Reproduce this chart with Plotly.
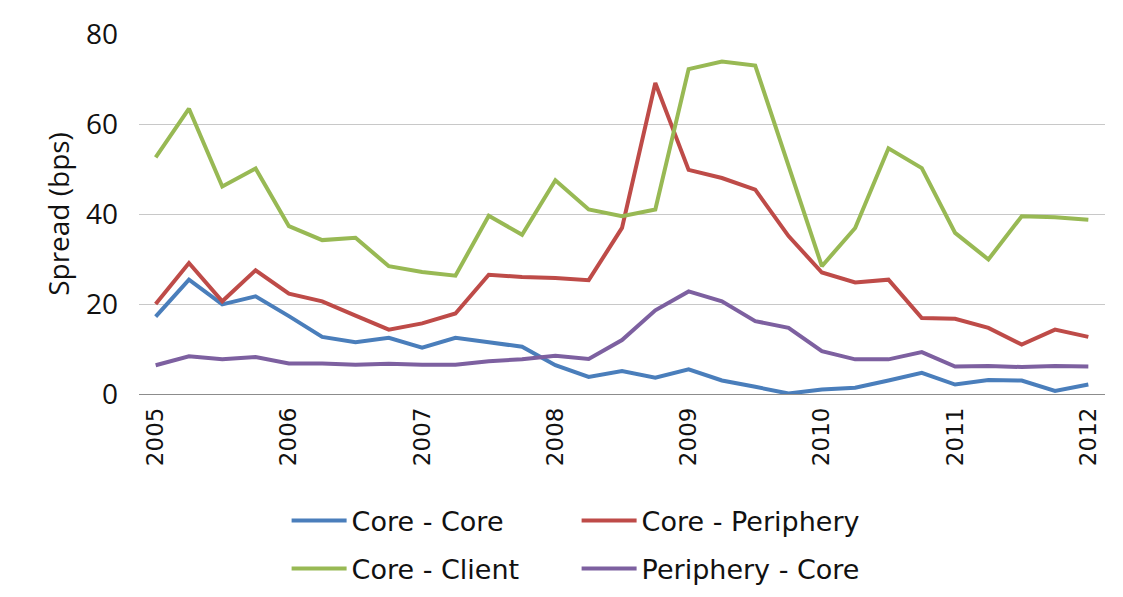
import plotly.graph_objects as go

quarters = list(range(29))
tick_vals = [0, 4, 8, 12, 16, 20, 24, 28]
tick_text = ["2005", "2006", "2007", "2008", "2009", "2010", "2011", "2012"]

core_core = [17.2, 25.4, 19.9, 21.7, 17.3, 12.7, 11.5, 12.5, 10.3, 12.5, 11.5, 10.5,
             6.4, 3.8, 5.1, 3.6, 5.5, 3.0, 1.6, 0.1, 1.0, 1.4, 3.0, 4.7, 2.1, 3.1, 3.0, 0.7, 2.1]
core_periphery = [20.0, 29.1, 20.6, 27.5, 22.3, 20.6, 17.4, 14.3, 15.7, 17.9, 26.5, 26.0,
                  25.8, 25.3, 36.9, 69.1, 49.8, 48.0, 45.4, 35.1, 27.0, 24.8, 25.4, 16.9,
                  16.7, 14.7, 11.0, 14.3, 12.7]
core_client = [52.6, 63.4, 46.1, 50.1, 37.3, 34.2, 34.7, 28.4, 27.1, 26.3, 39.6, 35.4,
               47.5, 41.0, 39.5, 41.0, 72.2, 73.9, 73.0, 51.0, 28.4, 36.9, 54.6, 50.2,
               35.8, 29.9, 39.5, 39.3, 38.7]
periphery_core = [6.4, 8.4, 7.7, 8.2, 6.8, 6.8, 6.5, 6.7, 6.5, 6.5, 7.3, 7.7,
                  8.5, 7.8, 12.0, 18.6, 22.8, 20.6, 16.2, 14.7, 9.5, 7.7, 7.7, 9.3,
                  6.1, 6.2, 6.0, 6.2, 6.1]

series = [
    ("Core - Core", core_core, "#4A7EBB", "legend"),
    ("Core - Periphery", core_periphery, "#BE4B48", "legend"),
    ("Core - Client", core_client, "#98B954", "legend2"),
    ("Periphery - Core", periphery_core, "#7D60A0", "legend2"),
]

fig = go.Figure()
for name, vals, color, lg in series:
    fig.add_trace(go.Scatter(
        x=quarters, y=vals, mode="lines", name=name,
        line=dict(color=color, width=4), legend=lg,
    ))

FONT = "DejaVu Sans"
legend_common = dict(
    orientation="h", xanchor="left", yanchor="middle",
    xref="paper", yref="container",
    font=dict(family=FONT, size=27, color="#111111"),
    entrywidth=220, entrywidthmode="pixels",
    bgcolor="rgba(0,0,0,0)", borderwidth=0,
    itemwidth=55,
)

fig.update_layout(
    width=1115, height=589,
    margin=dict(l=131, r=18, t=26, b=203, autoexpand=False),
    paper_bgcolor="white", plot_bgcolor="white",
    font=dict(family=FONT, size=22, color="#111111"),
    showlegend=True,
    legend=dict(x=0.1528, y=0.129, **legend_common),
    legend2=dict(x=0.1528, y=0.0475, **legend_common),
    xaxis=dict(
        range=[-0.5, 28.5], tickmode="array", tickvals=tick_vals, ticktext=tick_text,
        tickangle=-90, showgrid=False, zeroline=False, showline=False,
        ticks="", ticklabelstandoff=8, automargin=False,
        tickfont=dict(family=FONT, size=23, color="#111111"), fixedrange=True,
    ),
    yaxis=dict(
        range=[0, 80], tickmode="array", tickvals=[0, 20, 40, 60, 80],
        showgrid=True, gridcolor="#C8C8C8", gridwidth=1.2,
        zeroline=True, zerolinecolor="#8C8C8C", zerolinewidth=1.2,
        showline=False, ticks="", ticklabelstandoff=20, automargin=False,
        tickfont=dict(family="Open Sans", size=28, color="#111111"),
        title=dict(text="Spread (bps)", font=dict(family="Open Sans", size=28, color="#111111"), standoff=8),
        fixedrange=True,
    ),
)

fig.write_html("out.html")
